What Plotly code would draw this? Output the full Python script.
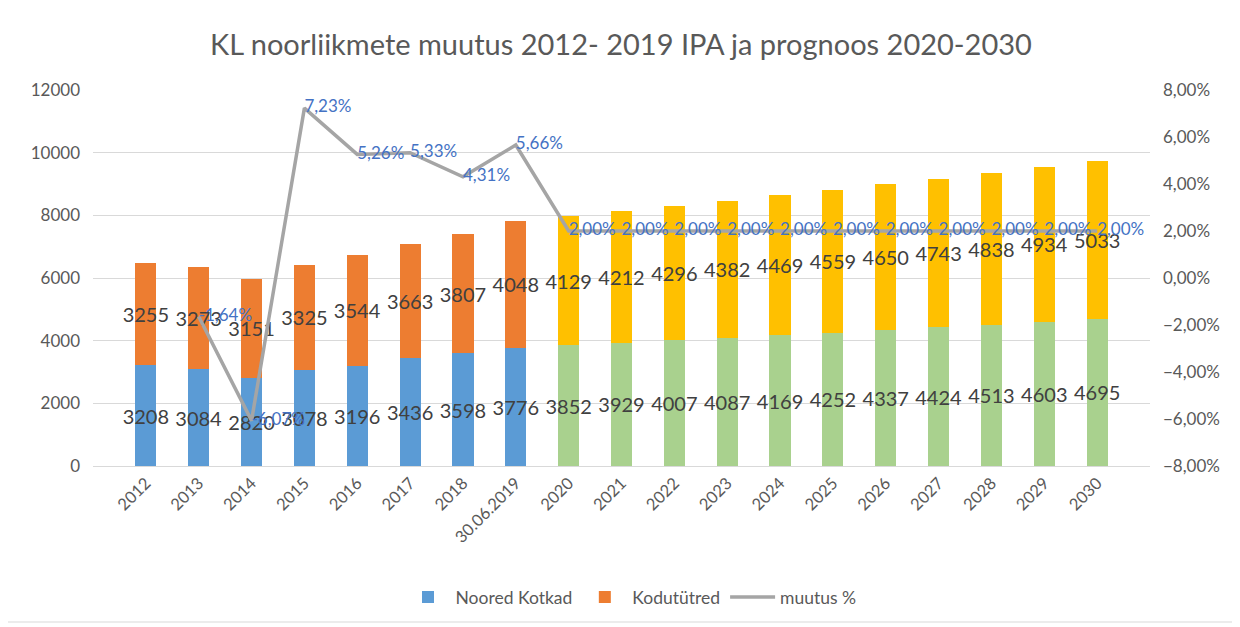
import plotly.graph_objects as go

categories = ["2012", "2013", "2014", "2015", "2016", "2017", "2018", "30.06.2019",
              "2020", "2021", "2022", "2023", "2024", "2025", "2026", "2027", "2028", "2029", "2030"]
noored_kotkad = [3208, 3084, 2820, 3078, 3196, 3436, 3598, 3776,
                 3852, 3929, 4007, 4087, 4169, 4252, 4337, 4424, 4513, 4603, 4695]
kodututred = [3255, 3273, 3151, 3325, 3544, 3663, 3807, 4048,
              4129, 4212, 4296, 4382, 4469, 4559, 4650, 4743, 4838, 4934, 5033]
muutus = [None, -0.0164, -0.0607, 0.0723, 0.0526, 0.0533, 0.0431, 0.0566,
          0.02, 0.02, 0.02, 0.02, 0.02, 0.02, 0.02, 0.02, 0.02, 0.02, 0.02]
is_forecast = [False] * 8 + [True] * 11

FONT = "Lato"
GREY_TXT = "#595959"

blue_cols = ["#A9D18E" if f else "#5B9BD5" for f in is_forecast]
orange_cols = ["#FFC000" if f else "#ED7D31" for f in is_forecast]

fig = go.Figure()
fig.add_trace(go.Bar(
    x=categories, y=noored_kotkad, name="Noored Kotkad",
    marker=dict(color=blue_cols, line=dict(width=0)),
    text=[str(v) for v in noored_kotkad], textposition="inside",
    insidetextanchor="middle", textangle=0, constraintext="none",
    textfont=dict(family=FONT, size=20, color="#404040"),
))
fig.add_trace(go.Bar(
    x=categories, y=kodututred, name="Kodutütred",
    marker=dict(color=orange_cols, line=dict(width=0)),
    text=[str(v) for v in kodututred], textposition="inside",
    insidetextanchor="middle", textangle=0, constraintext="none",
    textfont=dict(family=FONT, size=20, color="#404040"),
))
fig.add_trace(go.Scatter(
    x=categories, y=muutus, name="muutus %", yaxis="y2",
    mode="lines+text", line=dict(color="#A5A5A5", width=3.5),
    texttemplate="%{y:.2%}", textposition="middle right",
    textfont=dict(family=FONT, size=17, color="#4472C4"),
    cliponaxis=False, connectgaps=False,
))

# The page body adds an 8 px offset; target plot area in window pixels: x 93..1150, y 90..466
OFF = 8
W, H = 1232, 619
L, R, T, B = 93 - OFF, 1150 - OFF, 90 - OFF, 466 - OFF

def px(x):
    return (x - OFF - L) / (R - L)

def py(y):
    return (B - (y - OFF)) / (B - T)

fig.update_layout(
    width=W, height=H,
    margin=dict(l=L, r=W - R, t=T, b=H - B),
    paper_bgcolor="white", plot_bgcolor="white",
    separators=", ",
    barmode="stack", bargap=0.6,
    font=dict(family=FONT, color=GREY_TXT),
    title=dict(text="KL noorliikmete muutus 2012- 2019 IPA ja prognoos 2020-2030",
               x=px(621), xanchor="center", xref="paper",
               y=1 - (45 - OFF) / H, yanchor="middle",
               font=dict(family=FONT, size=29, color=GREY_TXT)),
    xaxis=dict(type="category", tickangle=-45, tickfont=dict(size=16.5, color=GREY_TXT),
               showline=True, linecolor="#D9D9D9", linewidth=1, ticks="",
               showgrid=False),
    yaxis=dict(range=[0, 12000], dtick=2000, tickformat="d",
               tickfont=dict(size=17, color=GREY_TXT),
               gridcolor="#D9D9D9", gridwidth=1, zeroline=False, ticks="",
               ticklabelstandoff=12),
    yaxis2=dict(overlaying="y", side="right", range=[-0.08, 0.08], dtick=0.02,
                tickformat=".2%", tickfont=dict(size=17, color=GREY_TXT),
                showgrid=False, zeroline=False, ticks="", ticklabelstandoff=12),
    legend=dict(orientation="h", x=px(631), xanchor="center", y=py(597), yanchor="middle",
                font=dict(family=FONT, size=17.5, color=GREY_TXT),
                traceorder="normal", itemwidth=45),
    showlegend=True,
    shapes=[dict(type="rect", xref="paper", yref="paper",
                 x0=px(7), x1=px(1236), y0=py(622), y1=py(2),
                 line=dict(color="#D9D9D9", width=1), fillcolor="rgba(0,0,0,0)",
                 layer="below")],
)

fig.write_html("out.html")
